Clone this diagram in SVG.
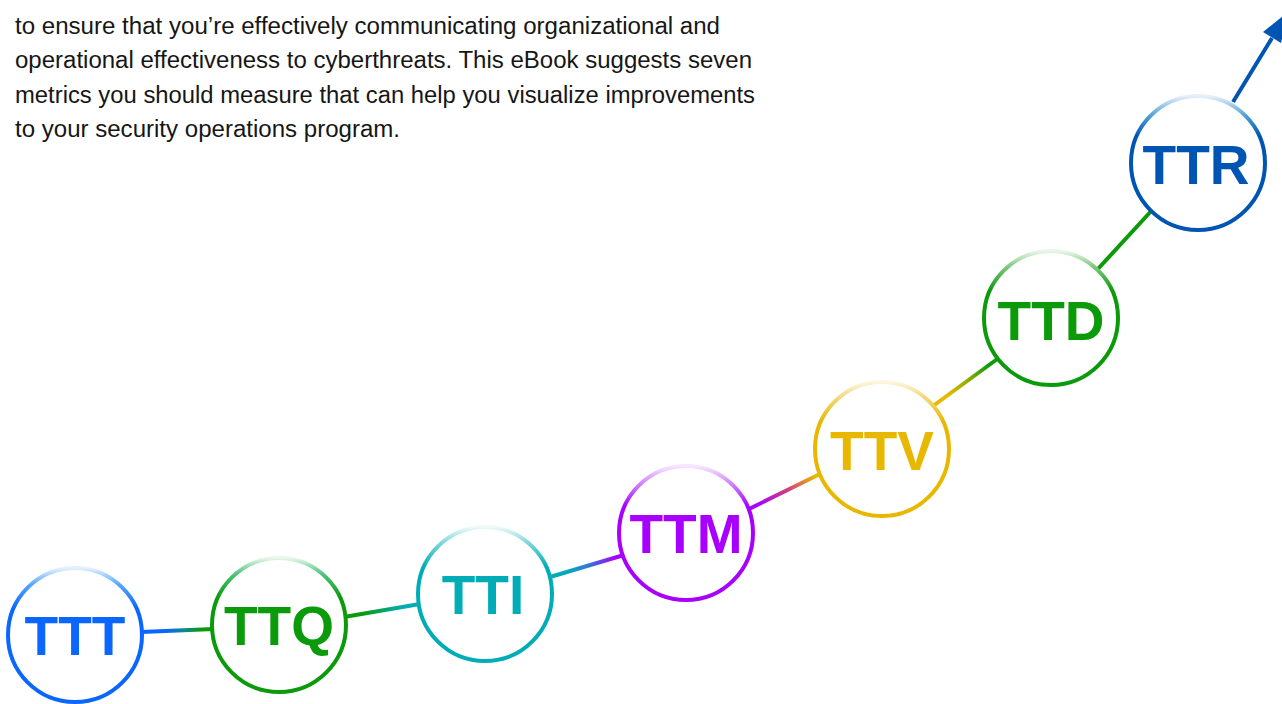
<svg xmlns="http://www.w3.org/2000/svg" width="1282" height="704" viewBox="0 0 1282 704">
  <style>
    .body { font-family: "Liberation Sans", Arial, sans-serif; font-size: 23px; fill: #161616; }
    .ring { fill: #ffffff; stroke-width: 4; }
    .lbl { font-family: "Liberation Sans", Arial, sans-serif; font-weight: bold; font-size: 55px; text-anchor: middle; }
    .link { stroke-width: 4; stroke-linecap: butt; fill: none; }
  </style>
  <defs>
    <!-- ring strokes fade out toward the top -->
    <linearGradient id="gT" x1="0" y1="0" x2="0" y2="1">
      <stop offset="0" stop-color="#e6f1ff"/>
      <stop offset="0.12" stop-color="#5aa8ff"/>
      <stop offset="0.3" stop-color="#0a66ff"/>
      <stop offset="1" stop-color="#0a66ff"/>
    </linearGradient>
    <linearGradient id="gQ" x1="0" y1="0" x2="0" y2="1">
      <stop offset="0" stop-color="#e8f7ea"/>
      <stop offset="0.12" stop-color="#4cc47a"/>
      <stop offset="0.3" stop-color="#0a9a0a"/>
      <stop offset="1" stop-color="#0a9a0a"/>
    </linearGradient>
    <linearGradient id="gI" x1="0" y1="0" x2="0" y2="1">
      <stop offset="0" stop-color="#eefafa"/>
      <stop offset="0.12" stop-color="#7cd6da"/>
      <stop offset="0.3" stop-color="#00adb7"/>
      <stop offset="1" stop-color="#00adb7"/>
    </linearGradient>
    <linearGradient id="gM" x1="0" y1="0" x2="0" y2="1">
      <stop offset="0" stop-color="#f7e8ff"/>
      <stop offset="0.12" stop-color="#d38cff"/>
      <stop offset="0.3" stop-color="#a800ff"/>
      <stop offset="1" stop-color="#a800ff"/>
    </linearGradient>
    <linearGradient id="gV" x1="0" y1="0" x2="0" y2="1">
      <stop offset="0" stop-color="#fdf6e0"/>
      <stop offset="0.12" stop-color="#f3d775"/>
      <stop offset="0.3" stop-color="#e8b800"/>
      <stop offset="1" stop-color="#e8b800"/>
    </linearGradient>
    <linearGradient id="gD" x1="0" y1="0" x2="0" y2="1">
      <stop offset="0" stop-color="#eaf6ea"/>
      <stop offset="0.12" stop-color="#7cc77c"/>
      <stop offset="0.3" stop-color="#0a9a0a"/>
      <stop offset="1" stop-color="#0a9a0a"/>
    </linearGradient>
    <linearGradient id="gR" x1="0" y1="0" x2="0" y2="1">
      <stop offset="0" stop-color="#e8f0fa"/>
      <stop offset="0.15" stop-color="#4f9fd6"/>
      <stop offset="0.3" stop-color="#0055b3"/>
      <stop offset="1" stop-color="#0055b3"/>
    </linearGradient>

    <!-- connector colour blends -->
    <linearGradient id="l1" gradientUnits="userSpaceOnUse" x1="143" y1="632" x2="212" y2="629">
      <stop offset="0.35" stop-color="#0a66ff"/>
      <stop offset="0.6" stop-color="#0a8a8a"/>
      <stop offset="0.85" stop-color="#0a9a0a"/>
    </linearGradient>
    <linearGradient id="l2" gradientUnits="userSpaceOnUse" x1="346" y1="617" x2="418" y2="604">
      <stop offset="0.2" stop-color="#0a9a0a"/>
      <stop offset="0.8" stop-color="#00adb7"/>
    </linearGradient>
    <linearGradient id="l3" gradientUnits="userSpaceOnUse" x1="552" y1="576" x2="622" y2="555">
      <stop offset="0.2" stop-color="#00adb7"/>
      <stop offset="0.55" stop-color="#3a6ee0"/>
      <stop offset="0.9" stop-color="#a800ff"/>
    </linearGradient>
    <linearGradient id="l4" gradientUnits="userSpaceOnUse" x1="751" y1="508" x2="818" y2="475">
      <stop offset="0.1" stop-color="#a800ff"/>
      <stop offset="0.55" stop-color="#d0407a"/>
      <stop offset="0.95" stop-color="#e8b800"/>
    </linearGradient>
    <linearGradient id="l5" gradientUnits="userSpaceOnUse" x1="935" y1="405" x2="998" y2="358">
      <stop offset="0.2" stop-color="#e8b800"/>
      <stop offset="0.55" stop-color="#8aaa05"/>
      <stop offset="0.85" stop-color="#0a9a0a"/>
    </linearGradient>
  </defs>

  <rect width="1282" height="704" fill="#ffffff"/>

  <!-- intro paragraph -->
  <g id="intro">
    <text class="body" x="15" y="34" textLength="705" lengthAdjust="spacingAndGlyphs">to ensure that you’re effectively communicating organizational and</text>
    <text class="body" x="15" y="68" textLength="737" lengthAdjust="spacingAndGlyphs">operational effectiveness to cyberthreats. This eBook suggests seven</text>
    <text class="body" x="15" y="103" textLength="740" lengthAdjust="spacingAndGlyphs">metrics you should measure that can help you visualize improvements</text>
    <text class="body" x="15" y="137" textLength="385" lengthAdjust="spacingAndGlyphs">to your security operations program.</text>
  </g>

  <!-- connectors between the metric rings -->
  <g id="connectors">
    <line class="link" x1="141" y1="632" x2="214" y2="629" stroke="url(#l1)"/>
    <line class="link" x1="344" y1="617" x2="420" y2="604" stroke="url(#l2)"/>
    <line class="link" x1="550" y1="577" x2="624" y2="555" stroke="url(#l3)"/>
    <line class="link" x1="749" y1="509" x2="820" y2="474" stroke="url(#l4)"/>
    <line class="link" x1="933" y1="406" x2="1000" y2="357" stroke="url(#l5)"/>
    <line class="link" x1="1097" y1="270" x2="1154" y2="208" stroke="#0a9a0a"/>
    <line class="link" x1="1233" y1="102" x2="1272" y2="38" stroke="#0055b3"/>
    <polygon points="1288,12 1263,32 1281,43" fill="#0055b3"/>
  </g>

  <g id="ttt">
    <circle class="ring" cx="75" cy="635" r="67" stroke="url(#gT)"/>
    <text class="lbl" x="75" y="655" fill="#0a66ff">TTT</text>
  </g>
  <g id="ttq">
    <circle class="ring" cx="279" cy="625" r="67" stroke="url(#gQ)"/>
    <text class="lbl" x="279" y="645" fill="#0a9a0a">TTQ</text>
  </g>
  <g id="tti">
    <circle class="ring" cx="485" cy="594" r="67" stroke="url(#gI)"/>
    <text class="lbl" x="483" y="614" fill="#00adb7">TTI</text>
  </g>
  <g id="ttm">
    <circle class="ring" cx="686" cy="533" r="67" stroke="url(#gM)"/>
    <text class="lbl" x="686" y="553" fill="#a800ff">TTM</text>
  </g>
  <g id="ttv">
    <circle class="ring" cx="882" cy="449" r="67" stroke="url(#gV)"/>
    <text class="lbl" x="882" y="470" fill="#e8b800">TTV</text>
  </g>
  <g id="ttd">
    <circle class="ring" cx="1051" cy="318" r="67" stroke="url(#gD)"/>
    <text class="lbl" x="1051" y="340" fill="#0a9a0a">TTD</text>
  </g>
  <g id="ttr">
    <circle class="ring" cx="1198" cy="163" r="67" stroke="url(#gR)"/>
    <text class="lbl" x="1196" y="184" fill="#0055b3">TTR</text>
  </g>
</svg>
